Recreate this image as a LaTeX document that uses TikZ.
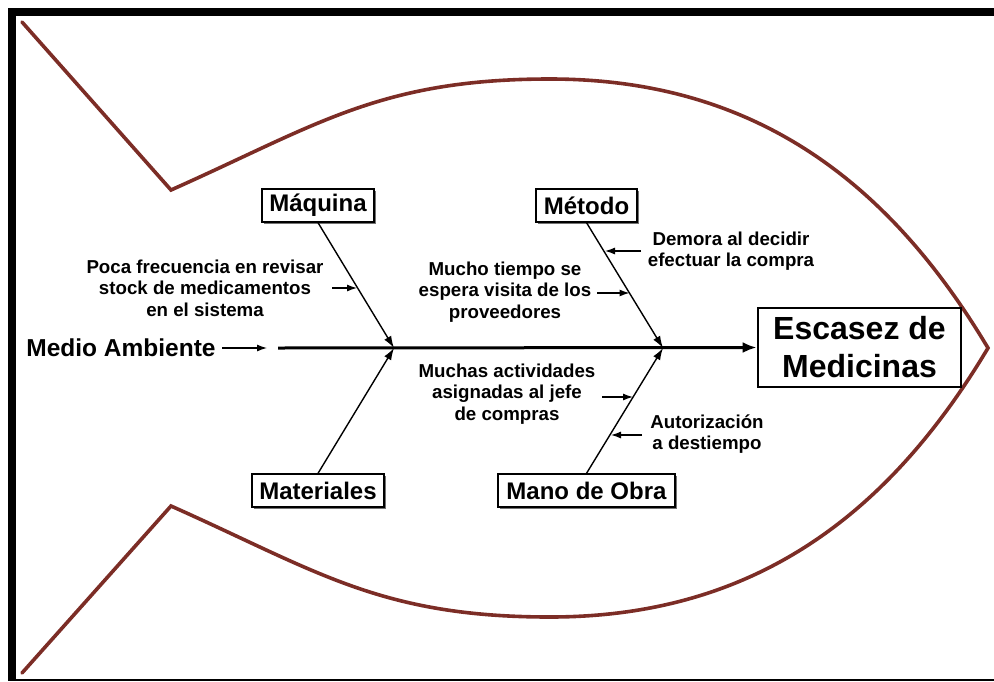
\documentclass[tikz,border=0pt]{standalone}
\usepackage{fontspec}
\setmainfont{Liberation Sans}
\usetikzlibrary{arrows.meta,shadows}
\definecolor{fishc}{RGB}{124,45,38}
\begin{document}
\begin{tikzpicture}[x=1pt,y=-1pt,
  fish/.style={draw=fishc, line width=3.6pt, line cap=round, line join=miter},
  catbox/.style={draw, line width=1.3pt, fill=white, inner sep=0pt, minimum height=33pt,
    font=\fontsize{24}{26}\selectfont\bfseries,
    drop shadow={shadow xshift=1.6pt, shadow yshift=-1.6pt, fill=black!55, opacity=1}},
  effbox/.style={draw, line width=2.8pt, fill=white, inner sep=0pt, align=center,
    minimum width=203pt, minimum height=79pt, font=\fontsize{32}{38}\selectfont\bfseries},
  lbl/.style={align=center, inner sep=0pt, font=\fontsize{18.7}{21.5}\selectfont\bfseries},
  spine/.style={line width=3pt, -{Latex[length=14pt,width=11pt]}},
  bone/.style={line width=1.4pt, -{Latex[length=12pt,width=8pt]}},
  small/.style={line width=1.2pt, -{Latex[length=10pt,width=7pt]}}
]
\useasboundingbox (0,0) rectangle (994,681);
% page frame
\fill (8,8) rectangle (994,16);
\fill (8,8) rectangle (16,681);
\draw[line width=1.2pt] (8,680) -- (994,680);

% fish outline
\draw[fish] (22,22) -- (171,190)
  .. controls (317,125) and (380,79) .. (550,79)
  .. controls (750,79) and (886,177) .. (988,348)
  .. controls (886,519) and (750,617) .. (550,617)
  .. controls (380,617) and (317,571) .. (171,506) -- (22,673);

% effect
\node[effbox] (esc) at (859.5,347.5) {Escasez de\\Medicinas};

% category boxes
\node[catbox, minimum width=112pt] (maq) at (318,205.5) {Máquina};
\node[catbox, minimum width=101pt] (met) at (586.5,205.5) {Método};
\node[catbox, minimum width=132pt] (mat) at (318,490.5) {Materiales};
\node[catbox, minimum width=177pt] (mano) at (586.5,490.5) {Mano de Obra};

% junctions on spine
\coordinate (s0) at (278,348);
\coordinate (j1) at (394,348);
\coordinate (j2) at (663,348);

% spine
\draw[spine] (s0) -- (esc.west);

% bones
\draw[bone] (maq.south) -- (j1);
\draw[bone] (mat.north) -- (j1);
\draw[bone] (met.south) -- (j2);
\draw[bone] (mano.north) -- (j2);

% medio ambiente
\node[inner sep=0pt, font=\fontsize{24.5}{26}\selectfont\bfseries] (med) at (121,348) {Medio Ambiente};
\coordinate (medend) at (267,348);
\draw[small] (222,348) -- (medend);

% causes
\node[lbl] (poca) at (205,288) {Poca frecuencia en revisar\\stock de medicamentos\\en el sistema};
\coordinate (pocaA) at (332,288);
\coordinate (pocaB) at (357,288);
\draw[small] (pocaA) -- (pocaB);

\node[lbl] (mucho) at (505,292) {Mucho tiempo se\\espera visita de los\\proveedores};
\coordinate (muchoA) at (597,293);
\coordinate (muchoB) at (629.5,293);
\draw[small] (muchoA) -- (muchoB);

\node[lbl] (demora) at (731,251) {Demora al decidir\\efectuar la compra};
\coordinate (demoraA) at (641,251);
\coordinate (demoraB) at (605,251);
\draw[small] (demoraA) -- (demoraB);

\node[lbl] (muchas) at (507,394) {Muchas actividades\\asignadas al jefe\\de compras};
\coordinate (muchasA) at (602,397);
\coordinate (muchasB) at (633,397);
\draw[small] (muchasA) -- (muchasB);

\node[lbl] (autor) at (707,434) {Autorización\\a destiempo};
\coordinate (autorA) at (642,435);
\coordinate (autorB) at (611,435);
\draw[small] (autorA) -- (autorB);
\end{tikzpicture}
\end{document}
